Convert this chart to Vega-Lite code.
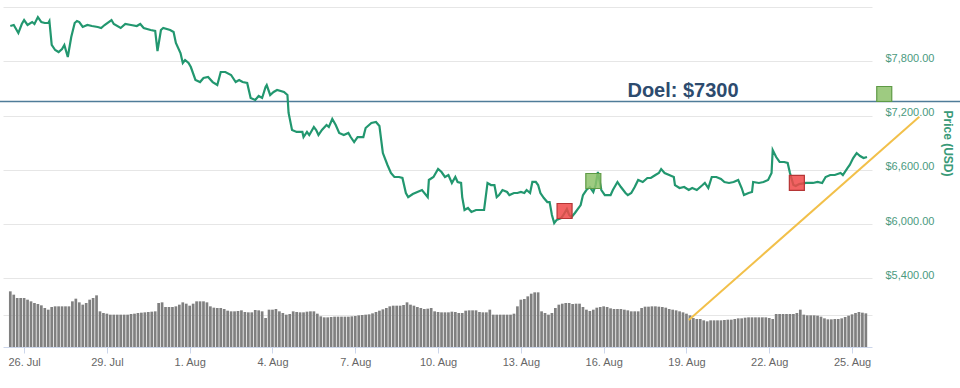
{
  "$schema": "https://vega.github.io/schema/vega-lite/v6.json",
  "width": 869,
  "height": 340,
  "autosize": "none",
  "padding": {"left": 3, "top": 7, "right": 88, "bottom": 41},
  "background": "white",
  "config": {"view": {"stroke": null}, "font": "Liberation Sans"},
  "datasets": {
    "price": [
      {"t":"2018-07-25T12:00","p":8190},{"t":"2018-07-25T15:00","p":8201},{"t":"2018-07-25T19:00","p":8112},{"t":"2018-07-25T22:00","p":8212},
      {"t":"2018-07-26T00:00","p":8256},{"t":"2018-07-26T03:00","p":8201},{"t":"2018-07-26T07:00","p":8234},{"t":"2018-07-26T09:00","p":8212},
      {"t":"2018-07-26T12:00","p":8289},{"t":"2018-07-26T15:00","p":8234},{"t":"2018-07-26T18:00","p":8223},{"t":"2018-07-26T21:00","p":8223},
      {"t":"2018-07-26T22:00","p":8245},{"t":"2018-07-27T00:00","p":7980},{"t":"2018-07-27T03:00","p":7924},{"t":"2018-07-27T06:00","p":7902},
      {"t":"2018-07-27T09:00","p":7935},{"t":"2018-07-27T11:00","p":7980},{"t":"2018-07-27T14:00","p":7847},{"t":"2018-07-27T17:00","p":8068},
      {"t":"2018-07-27T20:00","p":8223},{"t":"2018-07-27T22:00","p":8245},{"t":"2018-07-28T00:00","p":8234},{"t":"2018-07-28T03:00","p":8179},
      {"t":"2018-07-28T07:00","p":8201},{"t":"2018-07-28T11:00","p":8190},{"t":"2018-07-28T16:00","p":8179},{"t":"2018-07-28T19:00","p":8168},
      {"t":"2018-07-28T22:00","p":8201},{"t":"2018-07-29T04:00","p":8256},{"t":"2018-07-29T06:00","p":8212},{"t":"2018-07-29T12:00","p":8168},
      {"t":"2018-07-29T16:00","p":8212},{"t":"2018-07-29T21:00","p":8201},{"t":"2018-07-30T02:00","p":8190},{"t":"2018-07-30T05:00","p":8212},
      {"t":"2018-07-30T08:00","p":8168},{"t":"2018-07-30T14:00","p":8146},{"t":"2018-07-30T18:00","p":8135},{"t":"2018-07-30T20:00","p":7913},
      {"t":"2018-07-30T23:00","p":8146},{"t":"2018-07-31T01:00","p":8168},{"t":"2018-07-31T07:00","p":8146},{"t":"2018-07-31T10:00","p":8124},
      {"t":"2018-07-31T12:00","p":8002},{"t":"2018-07-31T16:00","p":7891},{"t":"2018-07-31T18:00","p":7781},{"t":"2018-07-31T20:00","p":7814},
      {"t":"2018-07-31T23:00","p":7781},{"t":"2018-08-01T01:00","p":7736},{"t":"2018-08-01T05:00","p":7593},{"t":"2018-08-01T09:00","p":7570},
      {"t":"2018-08-01T12:00","p":7615},{"t":"2018-08-01T16:00","p":7626},{"t":"2018-08-01T20:00","p":7570},{"t":"2018-08-02T00:00","p":7537},
      {"t":"2018-08-02T03:00","p":7681},{"t":"2018-08-02T07:00","p":7681},{"t":"2018-08-02T12:00","p":7648},{"t":"2018-08-02T16:00","p":7570},
      {"t":"2018-08-02T19:00","p":7593},{"t":"2018-08-02T22:00","p":7570},{"t":"2018-08-03T02:00","p":7559},{"t":"2018-08-03T05:00","p":7394},
      {"t":"2018-08-03T09:00","p":7372},{"t":"2018-08-03T12:00","p":7416},{"t":"2018-08-03T15:00","p":7394},{"t":"2018-08-03T18:00","p":7515},
      {"t":"2018-08-03T19:00","p":7537},{"t":"2018-08-03T22:00","p":7427},{"t":"2018-08-04T01:00","p":7460},{"t":"2018-08-04T04:00","p":7482},
      {"t":"2018-08-04T10:00","p":7460},{"t":"2018-08-04T13:00","p":7427},{"t":"2018-08-04T14:00","p":7228},{"t":"2018-08-04T17:00","p":7040},
      {"t":"2018-08-04T21:00","p":7018},{"t":"2018-08-05T02:00","p":7018},{"t":"2018-08-05T03:00","p":6962},{"t":"2018-08-05T06:00","p":7018},
      {"t":"2018-08-05T08:00","p":6984},{"t":"2018-08-05T12:00","p":7073},{"t":"2018-08-05T14:00","p":7040},{"t":"2018-08-05T16:00","p":6984},
      {"t":"2018-08-05T19:00","p":7040},{"t":"2018-08-05T23:00","p":7095},{"t":"2018-08-06T01:00","p":7073},{"t":"2018-08-06T04:00","p":7161},
      {"t":"2018-08-06T07:00","p":7095},{"t":"2018-08-06T10:00","p":7007},{"t":"2018-08-06T14:00","p":6984},{"t":"2018-08-06T18:00","p":7007},
      {"t":"2018-08-06T20:00","p":6962},{"t":"2018-08-06T23:00","p":6907},{"t":"2018-08-07T02:00","p":6962},{"t":"2018-08-07T07:00","p":6962},
      {"t":"2018-08-07T09:00","p":7062},{"t":"2018-08-07T14:00","p":7117},{"t":"2018-08-07T18:00","p":7128},{"t":"2018-08-07T21:00","p":7084},
      {"t":"2018-08-08T00:00","p":6785},{"t":"2018-08-08T04:00","p":6653},{"t":"2018-08-08T07:00","p":6564},{"t":"2018-08-08T10:00","p":6520},
      {"t":"2018-08-08T14:00","p":6520},{"t":"2018-08-08T17:00","p":6509},{"t":"2018-08-08T20:00","p":6343},{"t":"2018-08-08T22:00","p":6298},
      {"t":"2018-08-09T02:00","p":6332},{"t":"2018-08-09T06:00","p":6354},{"t":"2018-08-09T10:00","p":6376},{"t":"2018-08-09T15:00","p":6298},
      {"t":"2018-08-09T16:00","p":6487},{"t":"2018-08-09T20:00","p":6520},{"t":"2018-08-10T00:00","p":6608},{"t":"2018-08-10T03:00","p":6575},
      {"t":"2018-08-10T06:00","p":6520},{"t":"2018-08-10T09:00","p":6542},{"t":"2018-08-10T12:00","p":6454},{"t":"2018-08-10T15:00","p":6520},
      {"t":"2018-08-10T17:00","p":6465},{"t":"2018-08-10T20:00","p":6454},{"t":"2018-08-10T21:00","p":6298},{"t":"2018-08-10T23:00","p":6155},
      {"t":"2018-08-11T02:00","p":6177},{"t":"2018-08-11T05:00","p":6133},{"t":"2018-08-11T09:00","p":6155},{"t":"2018-08-11T12:00","p":6155},
      {"t":"2018-08-11T16:00","p":6155},{"t":"2018-08-11T19:00","p":6454},{"t":"2018-08-11T22:00","p":6431},{"t":"2018-08-12T01:00","p":6431},
      {"t":"2018-08-12T03:00","p":6298},{"t":"2018-08-12T05:00","p":6320},{"t":"2018-08-12T08:00","p":6376},{"t":"2018-08-12T12:00","p":6354},
      {"t":"2018-08-12T14:00","p":6320},{"t":"2018-08-12T18:00","p":6343},{"t":"2018-08-12T21:00","p":6343},{"t":"2018-08-13T00:00","p":6354},
      {"t":"2018-08-13T03:00","p":6343},{"t":"2018-08-13T05:00","p":6376},{"t":"2018-08-13T08:00","p":6343},{"t":"2018-08-13T10:00","p":6465},
      {"t":"2018-08-13T13:00","p":6465},{"t":"2018-08-13T15:00","p":6431},{"t":"2018-08-13T17:00","p":6343},{"t":"2018-08-13T20:00","p":6287},
      {"t":"2018-08-13T23:00","p":6243},{"t":"2018-08-14T01:00","p":6243},{"t":"2018-08-14T03:00","p":6100},{"t":"2018-08-14T05:00","p":6011},
      {"t":"2018-08-14T07:00","p":6044},{"t":"2018-08-14T11:00","p":6066},{"t":"2018-08-14T13:00","p":6100},{"t":"2018-08-14T16:00","p":6166},
      {"t":"2018-08-14T18:00","p":6100},{"t":"2018-08-14T20:00","p":6077},{"t":"2018-08-14T23:00","p":6122},{"t":"2018-08-15T04:00","p":6210},
      {"t":"2018-08-15T06:00","p":6320},{"t":"2018-08-15T09:00","p":6376},{"t":"2018-08-15T12:00","p":6409},{"t":"2018-08-15T15:00","p":6354},
      {"t":"2018-08-15T17:00","p":6431},{"t":"2018-08-15T19:00","p":6575},{"t":"2018-08-15T22:00","p":6376},{"t":"2018-08-16T01:00","p":6320},
      {"t":"2018-08-16T06:00","p":6320},{"t":"2018-08-16T08:00","p":6376},{"t":"2018-08-16T12:00","p":6465},{"t":"2018-08-16T15:00","p":6409},
      {"t":"2018-08-16T19:00","p":6343},{"t":"2018-08-16T21:00","p":6320},{"t":"2018-08-17T00:00","p":6343},{"t":"2018-08-17T03:00","p":6409},
      {"t":"2018-08-17T06:00","p":6487},{"t":"2018-08-17T10:00","p":6465},{"t":"2018-08-17T14:00","p":6509},{"t":"2018-08-17T17:00","p":6509},
      {"t":"2018-08-17T21:00","p":6542},{"t":"2018-08-18T00:00","p":6564},{"t":"2018-08-18T02:00","p":6608},{"t":"2018-08-18T05:00","p":6564},
      {"t":"2018-08-18T09:00","p":6542},{"t":"2018-08-18T13:00","p":6520},{"t":"2018-08-18T14:00","p":6431},{"t":"2018-08-18T18:00","p":6398},
      {"t":"2018-08-18T22:00","p":6409},{"t":"2018-08-19T02:00","p":6376},{"t":"2018-08-19T05:00","p":6398},{"t":"2018-08-19T09:00","p":6376},
      {"t":"2018-08-19T14:00","p":6431},{"t":"2018-08-19T16:00","p":6454},{"t":"2018-08-19T19:00","p":6398},{"t":"2018-08-19T22:00","p":6520},
      {"t":"2018-08-20T02:00","p":6520},{"t":"2018-08-20T06:00","p":6498},{"t":"2018-08-20T09:00","p":6465},{"t":"2018-08-20T13:00","p":6454},
      {"t":"2018-08-20T17:00","p":6465},{"t":"2018-08-20T21:00","p":6487},{"t":"2018-08-21T00:00","p":6398},{"t":"2018-08-21T02:00","p":6320},
      {"t":"2018-08-21T06:00","p":6343},{"t":"2018-08-21T09:00","p":6354},{"t":"2018-08-21T10:00","p":6465},{"t":"2018-08-21T15:00","p":6454},
      {"t":"2018-08-21T19:00","p":6465},{"t":"2018-08-21T23:00","p":6487},{"t":"2018-08-22T02:00","p":6564},{"t":"2018-08-22T03:00","p":6818},
      {"t":"2018-08-22T06:00","p":6741},{"t":"2018-08-22T09:00","p":6686},{"t":"2018-08-22T13:00","p":6686},{"t":"2018-08-22T16:00","p":6675},
      {"t":"2018-08-22T18:00","p":6564},{"t":"2018-08-22T21:00","p":6431},{"t":"2018-08-22T23:00","p":6420},{"t":"2018-08-23T02:00","p":6442},
      {"t":"2018-08-23T08:00","p":6454},{"t":"2018-08-23T14:00","p":6454},{"t":"2018-08-23T18:00","p":6465},{"t":"2018-08-23T22:00","p":6454},
      {"t":"2018-08-24T01:00","p":6520},{"t":"2018-08-24T05:00","p":6542},{"t":"2018-08-24T09:00","p":6542},{"t":"2018-08-24T14:00","p":6564},
      {"t":"2018-08-24T16:00","p":6542},{"t":"2018-08-24T20:00","p":6619},{"t":"2018-08-24T22:00","p":6653},{"t":"2018-08-25T01:00","p":6730},
      {"t":"2018-08-25T04:00","p":6785},{"t":"2018-08-25T07:00","p":6752},{"t":"2018-08-25T10:00","p":6730},{"t":"2018-08-25T13:00","p":6741}
    ],
    "volume": [
      {"t":"2018-07-25T12:00","v":167},{"t":"2018-07-25T15:00","v":157},{"t":"2018-07-25T18:00","v":147},{"t":"2018-07-25T21:00","v":147},
      {"t":"2018-07-26T00:00","v":147},{"t":"2018-07-26T03:00","v":142},{"t":"2018-07-26T06:00","v":137},{"t":"2018-07-26T09:00","v":132},{"t":"2018-07-26T12:00","v":129},{"t":"2018-07-26T15:00","v":125},{"t":"2018-07-26T18:00","v":117},{"t":"2018-07-26T21:00","v":112},
      {"t":"2018-07-27T00:00","v":120},{"t":"2018-07-27T03:00","v":122},{"t":"2018-07-27T06:00","v":122},{"t":"2018-07-27T09:00","v":122},{"t":"2018-07-27T12:00","v":122},{"t":"2018-07-27T15:00","v":122},{"t":"2018-07-27T18:00","v":137},{"t":"2018-07-27T21:00","v":145},
      {"t":"2018-07-28T00:00","v":134},{"t":"2018-07-28T03:00","v":127},{"t":"2018-07-28T06:00","v":132},{"t":"2018-07-28T09:00","v":142},{"t":"2018-07-28T12:00","v":147},{"t":"2018-07-28T15:00","v":155},{"t":"2018-07-28T18:00","v":107},{"t":"2018-07-28T21:00","v":102},
      {"t":"2018-07-29T00:00","v":100},{"t":"2018-07-29T03:00","v":97},{"t":"2018-07-29T06:00","v":97},{"t":"2018-07-29T09:00","v":97},{"t":"2018-07-29T12:00","v":97},{"t":"2018-07-29T15:00","v":97},{"t":"2018-07-29T18:00","v":97},{"t":"2018-07-29T21:00","v":99},
      {"t":"2018-07-30T00:00","v":100},{"t":"2018-07-30T03:00","v":102},{"t":"2018-07-30T06:00","v":103},{"t":"2018-07-30T09:00","v":104},{"t":"2018-07-30T12:00","v":105},{"t":"2018-07-30T15:00","v":106},{"t":"2018-07-30T18:00","v":107},{"t":"2018-07-30T21:00","v":132},
      {"t":"2018-07-31T00:00","v":134},{"t":"2018-07-31T03:00","v":120},{"t":"2018-07-31T06:00","v":120},{"t":"2018-07-31T09:00","v":120},{"t":"2018-07-31T12:00","v":122},{"t":"2018-07-31T15:00","v":127},{"t":"2018-07-31T18:00","v":134},{"t":"2018-07-31T21:00","v":130},
      {"t":"2018-08-01T00:00","v":124},{"t":"2018-08-01T03:00","v":130},{"t":"2018-08-01T06:00","v":137},{"t":"2018-08-01T09:00","v":137},{"t":"2018-08-01T12:00","v":137},{"t":"2018-08-01T15:00","v":134},{"t":"2018-08-01T18:00","v":122},{"t":"2018-08-01T21:00","v":118},
      {"t":"2018-08-02T00:00","v":117},{"t":"2018-08-02T03:00","v":117},{"t":"2018-08-02T06:00","v":114},{"t":"2018-08-02T09:00","v":109},{"t":"2018-08-02T12:00","v":107},{"t":"2018-08-02T15:00","v":107},{"t":"2018-08-02T18:00","v":108},{"t":"2018-08-02T21:00","v":110},
      {"t":"2018-08-03T00:00","v":105},{"t":"2018-08-03T03:00","v":104},{"t":"2018-08-03T06:00","v":104},{"t":"2018-08-03T09:00","v":111},{"t":"2018-08-03T12:00","v":110},{"t":"2018-08-03T15:00","v":107},{"t":"2018-08-03T18:00","v":87},{"t":"2018-08-03T21:00","v":112},
      {"t":"2018-08-04T00:00","v":112},{"t":"2018-08-04T03:00","v":114},{"t":"2018-08-04T06:00","v":107},{"t":"2018-08-04T09:00","v":102},{"t":"2018-08-04T12:00","v":97},{"t":"2018-08-04T15:00","v":99},{"t":"2018-08-04T18:00","v":107},{"t":"2018-08-04T21:00","v":105},
      {"t":"2018-08-05T00:00","v":104},{"t":"2018-08-05T03:00","v":104},{"t":"2018-08-05T06:00","v":106},{"t":"2018-08-05T09:00","v":107},{"t":"2018-08-05T12:00","v":107},{"t":"2018-08-05T15:00","v":100},{"t":"2018-08-05T18:00","v":92},{"t":"2018-08-05T21:00","v":89},
      {"t":"2018-08-06T00:00","v":89},{"t":"2018-08-06T03:00","v":90},{"t":"2018-08-06T06:00","v":91},{"t":"2018-08-06T09:00","v":91},{"t":"2018-08-06T12:00","v":91},{"t":"2018-08-06T15:00","v":91},{"t":"2018-08-06T18:00","v":91},{"t":"2018-08-06T21:00","v":92},
      {"t":"2018-08-07T00:00","v":93},{"t":"2018-08-07T03:00","v":95},{"t":"2018-08-07T06:00","v":96},{"t":"2018-08-07T09:00","v":97},{"t":"2018-08-07T12:00","v":98},{"t":"2018-08-07T15:00","v":101},{"t":"2018-08-07T18:00","v":105},{"t":"2018-08-07T21:00","v":109},
      {"t":"2018-08-08T00:00","v":113},{"t":"2018-08-08T03:00","v":117},{"t":"2018-08-08T06:00","v":122},{"t":"2018-08-08T09:00","v":124},{"t":"2018-08-08T12:00","v":124},{"t":"2018-08-08T15:00","v":124},{"t":"2018-08-08T18:00","v":126},{"t":"2018-08-08T21:00","v":134},
      {"t":"2018-08-09T00:00","v":127},{"t":"2018-08-09T03:00","v":124},{"t":"2018-08-09T06:00","v":120},{"t":"2018-08-09T09:00","v":117},{"t":"2018-08-09T12:00","v":114},{"t":"2018-08-09T15:00","v":115},{"t":"2018-08-09T18:00","v":117},{"t":"2018-08-09T21:00","v":107},
      {"t":"2018-08-10T00:00","v":105},{"t":"2018-08-10T03:00","v":104},{"t":"2018-08-10T06:00","v":104},{"t":"2018-08-10T09:00","v":104},{"t":"2018-08-10T12:00","v":106},{"t":"2018-08-10T15:00","v":105},{"t":"2018-08-10T18:00","v":102},{"t":"2018-08-10T21:00","v":102},
      {"t":"2018-08-11T00:00","v":109},{"t":"2018-08-11T03:00","v":110},{"t":"2018-08-11T06:00","v":110},{"t":"2018-08-11T09:00","v":110},{"t":"2018-08-11T12:00","v":105},{"t":"2018-08-11T15:00","v":104},{"t":"2018-08-11T18:00","v":104},{"t":"2018-08-11T21:00","v":112},
      {"t":"2018-08-12T00:00","v":97},{"t":"2018-08-12T03:00","v":97},{"t":"2018-08-12T06:00","v":97},{"t":"2018-08-12T09:00","v":97},{"t":"2018-08-12T12:00","v":97},{"t":"2018-08-12T15:00","v":97},{"t":"2018-08-12T18:00","v":100},{"t":"2018-08-12T21:00","v":122},
      {"t":"2018-08-13T00:00","v":142},{"t":"2018-08-13T03:00","v":144},{"t":"2018-08-13T06:00","v":152},{"t":"2018-08-13T09:00","v":160},{"t":"2018-08-13T12:00","v":164},{"t":"2018-08-13T15:00","v":164},{"t":"2018-08-13T18:00","v":107},{"t":"2018-08-13T21:00","v":102},
      {"t":"2018-08-14T00:00","v":97},{"t":"2018-08-14T03:00","v":102},{"t":"2018-08-14T06:00","v":117},{"t":"2018-08-14T09:00","v":127},{"t":"2018-08-14T12:00","v":130},{"t":"2018-08-14T15:00","v":132},{"t":"2018-08-14T18:00","v":132},{"t":"2018-08-14T21:00","v":129},
      {"t":"2018-08-15T00:00","v":130},{"t":"2018-08-15T03:00","v":130},{"t":"2018-08-15T06:00","v":120},{"t":"2018-08-15T09:00","v":112},{"t":"2018-08-15T12:00","v":108},{"t":"2018-08-15T15:00","v":112},{"t":"2018-08-15T18:00","v":118},{"t":"2018-08-15T21:00","v":120},
      {"t":"2018-08-16T00:00","v":122},{"t":"2018-08-16T03:00","v":120},{"t":"2018-08-16T06:00","v":116},{"t":"2018-08-16T09:00","v":114},{"t":"2018-08-16T12:00","v":114},{"t":"2018-08-16T15:00","v":114},{"t":"2018-08-16T18:00","v":112},{"t":"2018-08-16T21:00","v":110},
      {"t":"2018-08-17T00:00","v":107},{"t":"2018-08-17T03:00","v":107},{"t":"2018-08-17T06:00","v":107},{"t":"2018-08-17T09:00","v":117},{"t":"2018-08-17T12:00","v":121},{"t":"2018-08-17T15:00","v":121},{"t":"2018-08-17T18:00","v":122},{"t":"2018-08-17T21:00","v":122},
      {"t":"2018-08-18T00:00","v":121},{"t":"2018-08-18T03:00","v":120},{"t":"2018-08-18T06:00","v":118},{"t":"2018-08-18T09:00","v":114},{"t":"2018-08-18T12:00","v":112},{"t":"2018-08-18T15:00","v":110},{"t":"2018-08-18T18:00","v":107},{"t":"2018-08-18T21:00","v":104},
      {"t":"2018-08-19T00:00","v":100},{"t":"2018-08-19T03:00","v":95},{"t":"2018-08-19T06:00","v":87},{"t":"2018-08-19T09:00","v":84},{"t":"2018-08-19T12:00","v":84},{"t":"2018-08-19T15:00","v":80},{"t":"2018-08-19T18:00","v":77},{"t":"2018-08-19T21:00","v":80},
      {"t":"2018-08-20T00:00","v":80},{"t":"2018-08-20T03:00","v":80},{"t":"2018-08-20T06:00","v":80},{"t":"2018-08-20T09:00","v":81},{"t":"2018-08-20T12:00","v":82},{"t":"2018-08-20T15:00","v":82},{"t":"2018-08-20T18:00","v":84},{"t":"2018-08-20T21:00","v":86},
      {"t":"2018-08-21T00:00","v":86},{"t":"2018-08-21T03:00","v":88},{"t":"2018-08-21T06:00","v":89},{"t":"2018-08-21T09:00","v":89},{"t":"2018-08-21T12:00","v":89},{"t":"2018-08-21T15:00","v":89},{"t":"2018-08-21T18:00","v":89},{"t":"2018-08-21T21:00","v":89},
      {"t":"2018-08-22T00:00","v":87},{"t":"2018-08-22T03:00","v":84},{"t":"2018-08-22T06:00","v":99},{"t":"2018-08-22T09:00","v":99},{"t":"2018-08-22T12:00","v":99},{"t":"2018-08-22T15:00","v":99},{"t":"2018-08-22T18:00","v":99},{"t":"2018-08-22T21:00","v":99},
      {"t":"2018-08-23T00:00","v":102},{"t":"2018-08-23T03:00","v":112},{"t":"2018-08-23T06:00","v":97},{"t":"2018-08-23T09:00","v":95},{"t":"2018-08-23T12:00","v":95},{"t":"2018-08-23T15:00","v":95},{"t":"2018-08-23T18:00","v":94},{"t":"2018-08-23T21:00","v":91},
      {"t":"2018-08-24T00:00","v":86},{"t":"2018-08-24T03:00","v":83},{"t":"2018-08-24T06:00","v":83},{"t":"2018-08-24T09:00","v":84},{"t":"2018-08-24T12:00","v":84},{"t":"2018-08-24T15:00","v":86},{"t":"2018-08-24T18:00","v":90},{"t":"2018-08-24T21:00","v":94},
      {"t":"2018-08-25T00:00","v":98},{"t":"2018-08-25T03:00","v":102},{"t":"2018-08-25T06:00","v":105},{"t":"2018-08-25T09:00","v":103},{"t":"2018-08-25T12:00","v":101}
    ],
    "target": [
      {"t":"2018-07-24T12:00","p":7355},{"t":"2018-08-29T00:00","p":7355}
    ],
    "trend": [
      {"t":"2018-08-19T02:00","p":4938},{"t":"2018-08-27T10:30","p":7187}
    ],
    "signals": [
      {"t":"2018-08-14T14:00","p":6144,"kind":"sell"},
      {"t":"2018-08-15T15:00","p":6476,"kind":"buy"},
      {"t":"2018-08-23T00:00","p":6454,"kind":"sell"},
      {"t":"2018-08-26T04:00","p":7438,"kind":"buy"}
    ],
    "labels": [
      {"t":"2018-08-18T21:00","p":7410,"label":"Doel: $7300"}
    ]
  },
  "encoding": {
    "x": {
      "field": "t",
      "type": "temporal",
      "scale": {"domain": [{"year":2018,"month":7,"date":25,"hours":10},{"year":2018,"month":8,"date":25,"hours":13}]},
      "axis": {
        "title": null,
        "values": [
          {"year":2018,"month":7,"date":26},{"year":2018,"month":7,"date":29},{"year":2018,"month":8,"date":1},
          {"year":2018,"month":8,"date":4},{"year":2018,"month":8,"date":7},{"year":2018,"month":8,"date":10},
          {"year":2018,"month":8,"date":13},{"year":2018,"month":8,"date":16},{"year":2018,"month":8,"date":19},
          {"year":2018,"month":8,"date":22},{"year":2018,"month":8,"date":25}
        ],
        "format": "%-d. %b",
        "grid": false,
        "labelFont": "Liberation Sans",
        "labelFontSize": 11,
        "labelColor": "#666666",
        "tickColor": "#ccd6eb",
        "tickSize": 6,
        "domainColor": "#ccd6eb",
        "labelPadding": 3
      }
    }
  },
  "layer": [
    {
      "data": {"name": "volume"},
      "mark": {"type": "bar", "size": 2.7, "color": "#808080"},
      "encoding": {
        "y": {
          "field": "v",
          "type": "quantitative",
          "scale": {"domain": [0, 1020], "nice": false},
          "axis": {"orient": "left", "values": [97], "labels": false, "ticks": false, "domain": false, "grid": true, "gridColor": "#e6e6e6", "title": null}
        }
      }
    },
    {
      "encoding": {
        "y": {
          "field": "p",
          "type": "quantitative",
          "scale": {"domain": [4640, 8400], "zero": false, "nice": false},
          "axis": {
            "orient": "right",
            "values": [5400, 6000, 6600, 7200, 7800, 8400],
            "labelExpr": "datum.value > 8000 ? '' : '$' + format(datum.value, ',.2f')",
            "grid": true,
            "gridColor": "#e6e6e6",
            "ticks": false,
            "domain": false,
            "labelPadding": 13,
            "labelColor": "#4b9a80",
            "labelFont": "Liberation Sans",
            "labelFontSize": 11,
            "labelBaseline": "alphabetic",
            "title": "Price (USD)",
            "titleAngle": 90,
            "titleX": 75,
            "titleY": 136,
            "titleAlign": "center",
            "titleBaseline": "middle",
            "titleColor": "#3a9a78",
            "titleFont": "Liberation Sans",
            "titleFontSize": 12,
            "titleFontWeight": "bold"
          }
        }
      },
      "layer": [
        {"data": {"name": "target"}, "mark": {"type": "line", "color": "#4f7c99", "strokeWidth": 1.5}},
        {"data": {"name": "price"}, "mark": {"type": "line", "color": "#22976f", "strokeWidth": 2.2}},
        {"data": {"name": "trend"}, "mark": {"type": "line", "color": "#f2c04a", "strokeWidth": 2}},
        {
          "data": {"name": "signals"},
          "mark": {"type": "point", "shape": "square", "size": 225, "filled": true, "fillOpacity": 0.85, "strokeWidth": 1.2},
          "encoding": {
            "fill": {"field": "kind", "type": "nominal", "scale": {"domain": ["buy", "sell"], "range": ["#8dc26b", "#f04848"]}, "legend": null},
            "stroke": {"field": "kind", "type": "nominal", "scale": {"domain": ["buy", "sell"], "range": ["#5e9a45", "#b53535"]}, "legend": null}
          }
        },
        {
          "data": {"name": "labels"},
          "mark": {"type": "text", "font": "Liberation Sans", "fontSize": 20, "fontWeight": "bold", "color": "#2d4b6e", "align": "center", "baseline": "alphabetic"},
          "encoding": {"text": {"field": "label"}}
        }
      ]
    }
  ],
  "resolve": {"scale": {"y": "independent"}, "axis": {"y": "independent"}}
}
